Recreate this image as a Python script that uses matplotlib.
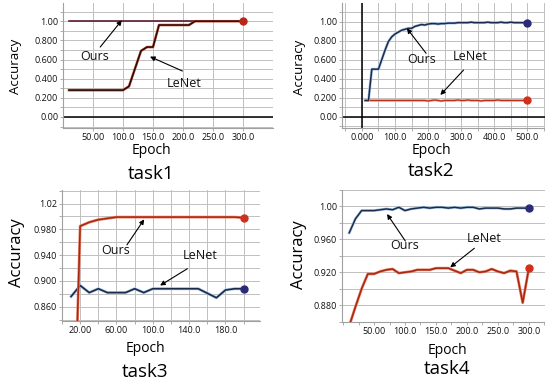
import numpy as np
import matplotlib
matplotlib.use("Agg")
import matplotlib.pyplot as plt
import matplotlib.patheffects as pe

plt.rcParams["font.family"] = ["Open Sans", "DejaVu Sans"]

# ---- data ----
t1_epoch = [10, 100, 110, 130, 140, 150, 160, 210, 220, 300]
t1_ours = [1.0, 1.0, 1.0, 1.0, 1.0, 1.0, 1.0, 1.0, 1.0, 1.0]
t1_lenet = [0.28, 0.28, 0.32, 0.69, 0.73, 0.73, 0.96, 0.96, 1.0, 1.0]

t2_epoch = list(range(10, 501, 10))
t2_ours = [0.17, 0.17, 0.50, 0.50, 0.50, 0.60, 0.70, 0.79, 0.84, 0.87,
           0.89, 0.91, 0.92, 0.93, 0.93, 0.95, 0.96, 0.97, 0.965, 0.975,
           0.98, 0.98, 0.975, 0.98, 0.98, 0.985, 0.985, 0.985, 0.99, 0.99,
           0.99, 0.99, 0.995, 0.99, 0.99, 0.99, 0.99, 0.995, 0.99, 0.99,
           0.99, 0.995, 0.99, 0.99, 0.995, 0.99, 0.99, 0.99, 0.99, 0.99]
t2_lenet = [0.17, 0.17, 0.17, 0.17, 0.17, 0.17, 0.17, 0.17, 0.17, 0.17,
            0.17, 0.17, 0.17, 0.17, 0.17, 0.17, 0.17, 0.17, 0.17, 0.165,
            0.17, 0.175, 0.17, 0.165, 0.17, 0.17, 0.17, 0.17, 0.175, 0.17,
            0.17, 0.175, 0.17, 0.17, 0.17, 0.165, 0.17, 0.17, 0.17, 0.17,
            0.175, 0.17, 0.17, 0.17, 0.17, 0.17, 0.17, 0.17, 0.17, 0.17]

t3_epoch = list(range(10, 201, 10))
t3_ours = [0.50, 0.985, 0.991, 0.995, 0.997, 0.999, 0.999, 0.999, 0.999, 0.999,
           0.999, 0.999, 0.999, 0.999, 0.999, 0.999, 0.999, 0.999, 0.999, 0.998]
t3_lenet = [0.876, 0.893, 0.882, 0.888, 0.882, 0.882, 0.882, 0.888, 0.882, 0.888,
            0.888, 0.888, 0.888, 0.888, 0.888, 0.881, 0.874, 0.886, 0.888, 0.888]

t4_epoch = list(range(10, 301, 10))
t4_ours = [0.968, 0.985, 0.995, 0.995, 0.995, 0.996, 0.997, 0.996, 0.999, 0.995,
           0.997, 0.998, 0.999, 0.998, 0.999, 0.999, 0.998, 0.999, 0.998, 0.999,
           0.999, 0.997, 0.998, 0.998, 0.998, 0.997, 0.997, 0.998, 0.998, 0.998]
t4_lenet = [0.855, 0.878, 0.900, 0.918, 0.918, 0.921, 0.923, 0.924, 0.919, 0.920,
            0.921, 0.923, 0.923, 0.923, 0.925, 0.925, 0.925, 0.922, 0.919, 0.923,
            0.923, 0.920, 0.921, 0.924, 0.921, 0.919, 0.922, 0.921, 0.883, 0.925]

t1_xticks = [50, 100, 150, 200, 250, 300]
t1_xlabels = ["50.00", "100.0", "150.0", "200.0", "250.0", "300.0"]
t12_yticks = [0.0, 0.2, 0.4, 0.6, 0.8, 1.0]
t12_ylabels = ["0.00", "0.200", "0.400", "0.600", "0.800", "1.00"]
t2_xticks = [0, 100, 200, 300, 400, 500]
t2_xlabels = ["0.000", "100.0", "200.0", "300.0", "400.0", "500.0"]
t3_xticks = [20, 60, 100, 140, 180]
t3_xlabels = ["20.00", "60.00", "100.0", "140.0", "180.0"]
t3_yticks = [0.86, 0.90, 0.94, 0.98, 1.02]
t3_ylabels = ["0.860", "0.900", "0.940", "0.980", "1.02"]
t4_xticks = [50, 100, 150, 200, 250, 300]
t4_xlabels = ["50.00", "100.0", "150.0", "200.0", "250.0", "300.0"]
t4_yticks = [0.88, 0.92, 0.96, 1.00]
t4_ylabels = ["0.880", "0.920", "0.960", "1.00"]

NAVY, NAVY_HALO = "#1c2b4b", "#a8c8e4"
RED, RED_HALO = "#a8280f", "#e8806a"
MAROON = "#5e1a33"
DOT_RED, DOT_NAVY = "#d0301c", "#2b2b78"
GRID = "#c0c0c0"
W, H = 545, 380


def fx(px):
    return px / W


def fy(py):
    return 1 - py / H


def make_ax(fig, l, t, r, b):
    ax = fig.add_axes([fx(l), fy(b), fx(r - l), (b - t) / H])
    for s in ("top", "right"):
        ax.spines[s].set_visible(False)
    for s in ("left", "bottom"):
        ax.spines[s].set_color("#a0a0a0")
        ax.spines[s].set_linewidth(0.8)
    ax.tick_params(which="both", length=2, width=0.6, color="#a0a0a0",
                   labelsize=6.5, pad=1.5, labelcolor="#111111")
    ax.set_axisbelow(True)
    return ax


def halo(lw, col):
    return [pe.Stroke(linewidth=lw + 0.9, foreground=col), pe.Normal()]


def note(ax, label, txt, tail, tip):
    ax.text(*txt, label, fontsize=9, ha="center", va="center", color="#111111")
    ax.annotate("", xy=tip, xytext=tail,
                arrowprops=dict(arrowstyle="-|>", color="black", lw=0.8,
                                mutation_scale=7, shrinkA=0, shrinkB=0))


fig = plt.figure(figsize=(5.45, 3.8), dpi=100)

# task1
ax = make_ax(fig, 63, 3, 273, 128)
ax.set_xlim(0, 350); ax.set_ylim(-0.115, 1.19)
ax.set_xticks(t1_xticks, t1_xlabels)
ax.set_yticks(t12_yticks, t12_ylabels)
ax.set_yticks(np.arange(-0.1, 1.15, 0.1), minor=True)
ax.set_xticks([], minor=True)
ax.grid(which="both", color=GRID, lw=0.7)
ax.axhline(0, color="black", lw=1.1)
ax.plot(t1_epoch, t1_ours, color=MAROON, lw=1.2)
ax.plot(t1_epoch, t1_lenet, color="#1a0808", lw=0.9, path_effects=halo(0.9, "#b0402a"))
ax.plot(t1_epoch[-1], t1_lenet[-1], "o", color="#b82818", ms=5)
note(ax, "Ours", (52, 0.63), (62, 0.73), (98, 1.01))
note(ax, "LeNet", (202, 0.35), (199, 0.48), (145, 0.63))

# task2
ax = make_ax(fig, 342, 3, 545, 128)
ax.set_xlim(-60, 553); ax.set_ylim(-0.12, 1.197)
ax.set_xticks(t2_xticks, t2_xlabels)
ax.set_xticks(np.arange(-50, 551, 50), minor=True)
ax.set_yticks(t12_yticks, t12_ylabels)
ax.set_yticks(np.arange(-0.1, 1.15, 0.1), minor=True)
ax.grid(which="both", color=GRID, lw=0.7)
ax.axhline(0, color="black", lw=1.1)
ax.axvline(0, color="black", lw=1.1)
ax.plot(t2_epoch, t2_lenet, color="#c03018", lw=0.9, path_effects=halo(0.9, "#f0a090"))
ax.plot(t2_epoch, t2_ours, color=NAVY, lw=1.1, path_effects=halo(1.1, NAVY_HALO))
ax.plot(t2_epoch[-1], t2_ours[-1], "o", color=DOT_NAVY, ms=5)
ax.plot(t2_epoch[-1], t2_lenet[-1], "o", color=DOT_RED, ms=5)
note(ax, "Ours", (181, 0.60), (194, 0.667), (136, 0.93))
note(ax, "LeNet", (327, 0.632), (307, 0.49), (237, 0.228))

# task3
ax = make_ax(fig, 62, 190, 260, 321)
ax.set_xlim(1.5, 218); ax.set_ylim(0.838, 1.041)
ax.set_xticks(t3_xticks, t3_xlabels)
ax.set_xticks(np.arange(0, 220, 20), minor=True)
ax.set_yticks(t3_yticks, t3_ylabels)
ax.set_yticks(np.arange(0.84, 1.04, 0.02), minor=True)
ax.grid(which="both", color=GRID, lw=0.7)
ax.plot(t3_epoch, t3_lenet, color=NAVY, lw=1.2, path_effects=halo(1.2, NAVY_HALO))
ax.plot(t3_epoch, t3_ours, color=RED, lw=1.1, path_effects=halo(1.1, RED_HALO))
ax.plot(t3_epoch[-1], t3_ours[-1], "o", color=DOT_RED, ms=5, clip_on=False)
ax.plot(t3_epoch[-1], t3_lenet[-1], "o", color=DOT_NAVY, ms=5)
note(ax, "Ours", (59.5, 0.947), (71.5, 0.956), (90.5, 0.9955))
note(ax, "LeNet", (152, 0.94), (138, 0.919), (108, 0.893))

# task4
ax = make_ax(fig, 342, 190, 545, 322)
ax.set_xlim(-1.7, 326); ax.set_ylim(0.8596, 1.0186)
ax.set_xticks(t4_xticks, t4_xlabels)
ax.set_xticks(np.arange(0, 326, 25), minor=True)
ax.set_yticks(t4_yticks, t4_ylabels)
ax.set_yticks(np.arange(0.86, 1.02, 0.02), minor=True)
ax.grid(which="both", axis="y", color=GRID, lw=0.7)
ax.plot(t4_epoch, t4_lenet, color=RED, lw=1.1, path_effects=halo(1.1, RED_HALO))
ax.plot(t4_epoch, t4_ours, color=NAVY, lw=1.1, path_effects=halo(1.1, NAVY_HALO))
ax.plot(t4_epoch[-1], t4_ours[-1], "o", color=DOT_NAVY, ms=5)
ax.plot(t4_epoch[-1], t4_lenet[-1], "o", color=DOT_RED, ms=5)
note(ax, "Ours", (99, 0.952), (100.6, 0.958), (71, 0.9908))
note(ax, "LeNet", (228, 0.9608), (212, 0.9492), (173, 0.926))

# axis titles and captions
for (xe, ye, xt, yt, xa, ya, sa, name) in [
        (151, 151, 151, 174, 15, 66, 9.5, "task1"),
        (431, 150, 431, 171, 299, 67, 9.5, "task2"),
        (145, 349, 145, 372, 17, 253, 12, "task3"),
        (447, 351, 447, 369, 299, 255, 12, "task4")]:
    fig.text(fx(xe), fy(ye), "Epoch", fontsize=10, ha="center", va="center")
    fig.text(fx(xt), fy(yt), name, fontsize=13.5, ha="center", va="center")
    fig.text(fx(xa), fy(ya), "Accuracy", fontsize=sa, rotation=90,
             ha="center", va="center")

fig.savefig("out.png", dpi=100)
